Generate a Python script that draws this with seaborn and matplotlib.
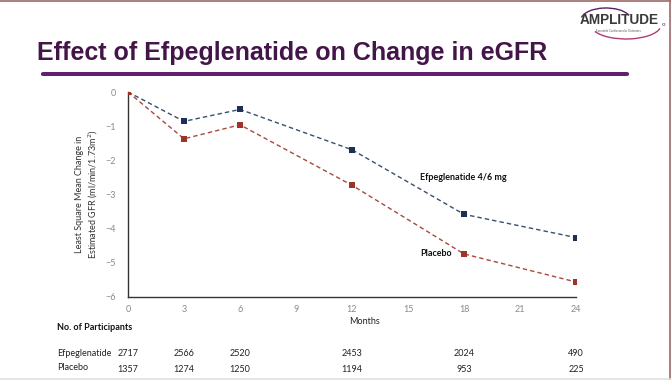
import numpy as np
import pandas as pd
import matplotlib
matplotlib.use("Agg")
import matplotlib.pyplot as plt
import seaborn as sns
from matplotlib.patches import FancyBboxPatch, Arc
from matplotlib.transforms import blended_transform_factory

# data
months = [0, 3, 6, 12, 18, 24]
efpeg = [0, -0.86, -0.51, -1.69, -3.58, -4.26]
placebo = [0, -1.37, -0.96, -2.73, -4.74, -5.56]

n_efpeg = ["2717", "2566", "2520", "2453", "2024", "490"]
n_placebo = ["1357", "1274", "1250", "1194", "953", "225"]

df = pd.DataFrame({
    "month": months * 2,
    "change": efpeg + placebo,
    "group": ["Efpeglenatide 4/6 mg"] * len(months) + ["Placebo"] * len(months),
})

sns.set_style("white")
plt.rcParams["font.family"] = ["Lato", "DejaVu Sans"]

W, H = 671, 380
fig = plt.figure(figsize=(W / 100, H / 100), dpi=100)
fig.patch.set_facecolor("white")

ax = fig.add_axes([128 / W, 1 - 297 / H, 448 / W, 205 / H])
colors = {"Efpeglenatide 4/6 mg": "#1c2f55", "Placebo": "#9e3328"}
line_colors = {"Efpeglenatide 4/6 mg": "#34506e", "Placebo": "#a8493c"}

for g, sub in df.groupby("group"):
    sns.lineplot(data=sub, x="month", y="change", ax=ax, color=line_colors[g],
                 linestyle=(0, (3.2, 2.2)), linewidth=1.0, legend=False)
    sns.scatterplot(data=sub, x="month", y="change", ax=ax, color=colors[g],
                    marker="s", s=14, linewidth=0, legend=False, zorder=3)

ax.set_xlim(0, 24)
ax.set_ylim(-6, 0)
ax.set_xticks(range(0, 25, 3))
ax.set_yticks(range(-6, 1))
ax.set_xlabel("")
ax.set_ylabel("Least Square Mean Change in\nEstimated GFR (ml/min/1.73m$^2$)",
              fontsize=6.5, color="#333333", labelpad=4, linespacing=1.25)
ax.tick_params(axis="x", direction="inout", length=4, width=0.8, color="#333333",
               labelsize=6.5, labelcolor="#8a8a8a", pad=4)
ax.tick_params(axis="y", direction="out", length=2.5, width=0.8, color="#333333",
               labelsize=6.5, labelcolor="#8a8a8a", pad=6)
for side in ["top", "right"]:
    ax.spines[side].set_visible(False)
for side in ["left", "bottom"]:
    ax.spines[side].set_color("#333333")
    ax.spines[side].set_linewidth(1.0)
ax.patch.set_alpha(0)

ax.text(15.65, -2.49, "Efpeglenatide 4/6 mg", fontsize=6.5, fontweight="bold",
        color="#111111", va="center", ha="left")
ax.text(15.65, -4.74, "Placebo", fontsize=6.5, fontweight="bold",
        color="#111111", va="center", ha="left")

fig.text(365 / W, 1 - 321 / H, "Months", fontsize=6.5, color="#222222",
         ha="center", va="center")

# participants table
tr = blended_transform_factory(ax.transData, fig.transFigure)
fig.text(57 / W, 1 - 327 / H, "No. of Participants", fontsize=6.5,
         fontweight="bold", color="#111111", va="center")
fig.text(57 / W, 1 - 353 / H, "Efpeglenatide", fontsize=6.5, color="#222222", va="center")
fig.text(57 / W, 1 - 368 / H, "Placebo", fontsize=6.5, color="#222222", va="center")
for m, a, b in zip(months, n_efpeg, n_placebo):
    ax.text(m, 1 - 353 / H, a, transform=tr, fontsize=6.5, color="#222222",
            ha="center", va="center", clip_on=False)
    ax.text(m, 1 - 370 / H, b, transform=tr, fontsize=6.5, color="#222222",
            ha="center", va="center", clip_on=False)

# title and purple rule
fig.text(37 / W, 1 - 53 / H, "Effect of Efpeglenatide on Change in eGFR",
         fontsize=18, fontweight="bold", color="#431548",
         family=["Liberation Sans", "DejaVu Sans"], va="center", ha="left")
bar = FancyBboxPatch((41 / W, 1 - 76 / H), 588 / W, 4 / H,
                     boxstyle="round,pad=0,rounding_size=0.004",
                     transform=fig.transFigure, facecolor="#621f6e",
                     edgecolor="none")
fig.patches.append(bar)

# logo
fig.text(619 / W, 1 - 20 / H, "AMPLITUDE", fontsize=9.8, fontweight="bold",
         color="#3a3a3a", family=["Liberation Sans Narrow", "Liberation Sans", "DejaVu Sans"],
         ha="center", va="center")
fig.text(663 / W, 1 - 25 / H, "o", fontsize=4.5, color="#6a2a70", ha="center", va="center")
fig.text(618 / W, 1 - 31 / H, "Exenatide Cardiovascular Outcomes", fontsize=2,
         color="#555555", ha="center", va="center")
swoosh = Arc((626 / W, 1 - 25 / H), 70 / W, 28 / H, theta1=200, theta2=350,
             transform=fig.transFigure, color="#b03a7a", linewidth=1.0)
fig.patches.append(swoosh)
swoosh2 = Arc((606 / W, 1 - 20 / H), 50 / W, 24 / H, theta1=20, theta2=170,
              transform=fig.transFigure, color="#5c1f66", linewidth=1.0)
fig.patches.append(swoosh2)

# slide frame
fig.add_artist(plt.Line2D([0, 1], [1 - 0.5 / H, 1 - 0.5 / H], transform=fig.transFigure,
                          color="#a06a6a", linewidth=1.2))
fig.add_artist(plt.Line2D([1 - 1.5 / W, 1 - 1.5 / W], [0, 1], transform=fig.transFigure,
                          color="#a06a6a", linewidth=1.2))
fig.add_artist(plt.Line2D([0, 1], [1.5 / H, 1.5 / H], transform=fig.transFigure,
                          color="#e6e0dc", linewidth=1.2))

fig.savefig("out.png", dpi=100)
